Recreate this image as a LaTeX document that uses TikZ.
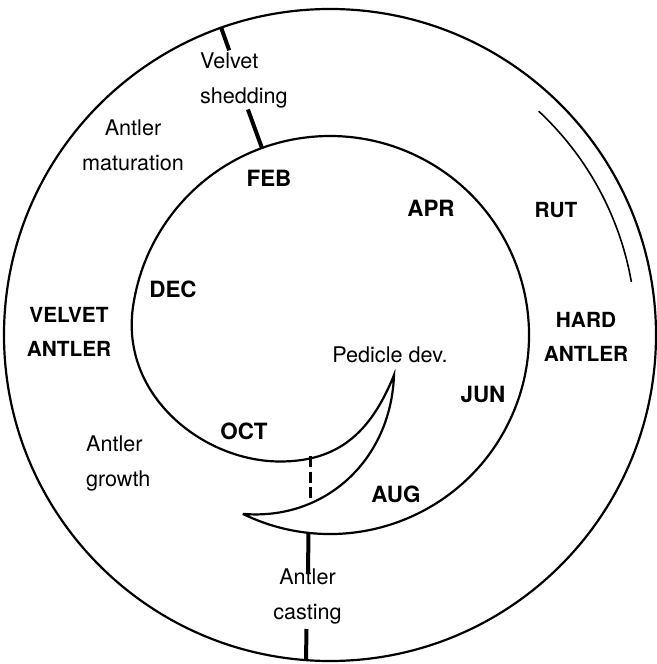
\documentclass[tikz,border=0pt]{standalone}
\usepackage{fontspec}
\setmainfont{TeX Gyre Heros}
\usepackage{tikz}
\usetikzlibrary{positioning, calc}

\tikzset{
    month/.style={inner sep=0pt, font=\fontsize{11.2}{17.5}\selectfont\bfseries},
    stage/.style={inner sep=0pt, align=center, font=\fontsize{10.4}{17}\selectfont\bfseries},
    event/.style={inner sep=0pt, align=center, font=\fontsize{10.8}{17.5}\selectfont},
    seasoncut/.style={line width=2pt}
}

\begin{document}
\begin{tikzpicture}[x=0.5pt, y=0.5pt, line width=1.1pt]
            \def\rout{326}
            \def\rin{199}
            \def\rrut{306}

            \useasboundingbox (-330,-329) rectangle (327,335);

            \coordinate (lowtip) at (-116:\rin);
            \coordinate (uptip) at (64,-40);
            \coordinate (low) at (-50,-126.5);

            % outer ring
            \draw (0,0) circle[radius=\rout];

            % rut
            \draw[line width=0.8pt]
                (10:\rrut) arc[start angle=10, end angle=47, radius=\rrut];

            % year spiral with pedicle crescent
            \draw (lowtip) arc[start angle=-116, end angle=172, radius=\rin]
                .. controls (-209.5,-61.4) and (-126,-126.5) .. (low)
                .. controls (6,-126.5) and (40,-100) .. (uptip)
                .. controls (61,-125) and (-5,-186) .. (lowtip);

            \draw[line width=1.5pt, dash pattern=on 5.6pt off 2.2pt]
                (-20,-121) -- (-20,-163);

            % cuts
            \draw[seasoncut] (109.5:\rout) -- (109.5:302);
            \draw[seasoncut] (110:240) -- (110:\rin);
            \draw[seasoncut] (-21.5,-197) -- (-22,-238);
            \draw[seasoncut] (-23.5,-294) -- (-24,-\rout);

            % months
            \foreach \m/\a/\b in {FEB/-61/157,APR/101/127,JUN/153/-59,AUG/66/-159,OCT/-86/-96,DEC/-157/46}{
                \node[month] (\m) at (\a,\b) {\m};
            }

            \node[stage] (velvet) at (-261,3.5) {VELVET\\ANTLER};
            \node[stage] (hard) at (256,-2) {HARD\\ANTLER};
            \node[stage] (rut) at (226,125) {RUT};

            \node[event, align=left, anchor=west] (shedding) at (-131,254.5) {Velvet\\shedding};
            \node[event] (maturation) at (-197,190) {Antler\\maturation};
            \node[event, align=left, anchor=west] (growth) at (-245,-128.5) {Antler\\growth};
            \node[event] (casting) at (-22.5,-261) {Antler\\casting};
            \node[event] (pedicle) at (60,-20) {Pedicle dev.};
        \end{tikzpicture}
\end{document}
